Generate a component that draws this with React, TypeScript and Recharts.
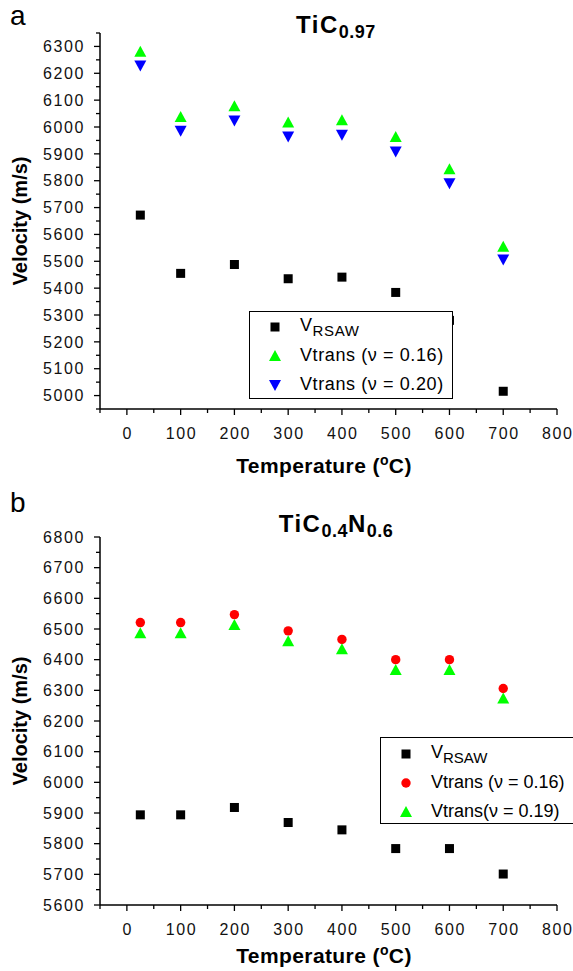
import React from 'react';
import { ScatterChart, Scatter, XAxis, YAxis } from 'recharts';

const FONT = '"Liberation Sans", Arial, Helvetica, sans-serif';

// temperatures (°C), shared by both panels
const temps = [25, 100, 200, 300, 400, 500, 600, 700];

// panel a: TiC0.97
const ticRsaw = [5672, 5455, 5488, 5435, 5441, 5384, 5280, 5016];
const ticTrans016 = [6280, 6037, 6077, 6017, 6025, 5963, 5843, 5554];
const ticTrans020 = [6229, 5986, 6024, 5965, 5971, 5909, 5791, 5507];

// panel b: TiC0.4N0.6
const ticnRsaw = [5894, 5894, 5918, 5869, 5845, 5784, 5784, 5701];
const ticnTrans016 = [6521, 6521, 6547, 6494, 6466, 6400, 6400, 6306];
const ticnTrans019 = [6486, 6486, 6513, 6460, 6434, 6366, 6366, 6273];

const xTicks = [-50, 0, 50, 100, 150, 200, 250, 300, 350, 400, 450, 500, 550, 600, 650, 700, 750, 800];
const topYTicks = [
  4950, 5000, 5050, 5100, 5150, 5200, 5250, 5300, 5350, 5400, 5450, 5500, 5550, 5600, 5650,
  5700, 5750, 5800, 5850, 5900, 5950, 6000, 6050, 6100, 6150, 6200, 6250, 6300, 6350,
];
const bottomYTicks = [
  5600, 5650, 5700, 5750, 5800, 5850, 5900, 5950, 6000, 6050, 6100, 6150, 6200, 6250, 6300,
  6350, 6400, 6450, 6500, 6550, 6600, 6650, 6700, 6750, 6800,
];

const toPoints = (vals: number[]) => temps.map((t, i) => ({ t, v: vals[i] }));

const YTick = (props: any) => {
  const { x, y, payload } = props;
  const major = payload.value % 100 === 0;
  return (
    <g>
      <line x1={x} y1={y} x2={x - (major ? 6 : 4)} y2={y} stroke="#000" strokeWidth={1.3} />
      {major && (
        <text
          x={x - 15}
          y={y}
          dy="0.36em"
          textAnchor="end"
          fontSize={16}
          letterSpacing={1.6}
          fontFamily={FONT}
          fill="#111"
        >
          {payload.value}
        </text>
      )}
    </g>
  );
};

const XTick = (props: any) => {
  const { x, y, payload } = props;
  const major = payload.value % 100 === 0;
  return (
    <g>
      <line x1={x} y1={y} x2={x} y2={y + (major ? 6 : 4)} stroke="#000" strokeWidth={1.3} />
      {major && (
        <text
          x={x + 0.8}
          y={y + 30}
          textAnchor="middle"
          fontSize={16}
          letterSpacing={1.6}
          fontFamily={FONT}
          fill="#111"
        >
          {payload.value}
        </text>
      )}
    </g>
  );
};

const Square = (props: any) => {
  const { cx, cy, fill } = props;
  return <rect x={cx - 4.5} y={cy - 4.5} width={9} height={9} fill={fill} />;
};
const TriUp = (props: any) => {
  const { cx, cy, fill } = props;
  return <polygon points={`${cx - 6},${cy + 5} ${cx + 6},${cy + 5} ${cx},${cy - 6}`} fill={fill} />;
};
const TriDown = (props: any) => {
  const { cx, cy, fill } = props;
  return <polygon points={`${cx - 6},${cy - 5} ${cx + 6},${cy - 5} ${cx},${cy + 6}`} fill={fill} />;
};
const Dot = (props: any) => {
  const { cx, cy, fill } = props;
  return <circle cx={cx} cy={cy} r={4.7} fill={fill} />;
};

const axisLine = { stroke: '#000', strokeWidth: 1.5 };

const abs = (left: number, top: number): React.CSSProperties => ({ position: 'absolute', left, top });

const YLabel = ({ cy }: { cy: number }) => (
  <div
    style={{
      position: 'absolute',
      left: 20,
      top: cy,
      transform: 'translate(-50%, -50%) rotate(-90deg)',
      fontWeight: 'bold',
      fontSize: 20,
      whiteSpace: 'nowrap',
    }}
  >
    Velocity (m/s)
  </div>
);

const XLabel = ({ cy }: { cy: number }) => (
  <div
    style={{
      position: 'absolute',
      left: 324,
      top: cy,
      transform: 'translate(-50%, -50%)',
      fontWeight: 'bold',
      fontSize: 21,
      letterSpacing: 0.4,
      whiteSpace: 'nowrap',
    }}
  >
    Temperature (<sup style={{ fontSize: 14 }}>o</sup>C)
  </div>
);

const Title = ({ cy, children }: { cy: number; children: React.ReactNode }) => (
  <div
    style={{
      position: 'absolute',
      left: 336,
      top: cy,
      transform: 'translate(-50%, -50%)',
      fontWeight: 'bold',
      fontSize: 24,
      letterSpacing: 1.5,
      whiteSpace: 'nowrap',
    }}
  >
    {children}
  </div>
);

const Sub = ({ children }: { children: React.ReactNode }) => (
  <sub style={{ fontSize: 18, verticalAlign: -5, letterSpacing: 0.5 }}>{children}</sub>
);

const LegendRow = ({
  marker,
  spacing = 0.6,
  children,
}: {
  marker: React.ReactNode;
  spacing?: number;
  children: React.ReactNode;
}) => (
  <div style={{ display: 'flex', alignItems: 'center', height: 29 }}>
    <svg width={24} height={16} style={{ marginRight: 13 }}>
      {marker}
    </svg>
    <span style={{ fontSize: 18, letterSpacing: spacing, whiteSpace: 'nowrap' }}>{children}</span>
  </div>
);

const App: React.FC = () => {
  return (
    <div
      style={{
        position: 'absolute',
        left: 0,
        top: 0,
        width: 573,
        height: 971,
        background: '#fff',
        fontFamily: FONT,
        color: '#000',
        overflow: 'hidden',
      }}
    >
      {/* panel a */}
      <div style={abs(0, 0)}>
        <ScatterChart width={573} height={485} margin={{ top: 33, right: 16, left: 0, bottom: 0 }}>
          <XAxis
            type="number"
            dataKey="t"
            domain={[-50, 800]}
            ticks={xTicks}
            interval={0}
            height={76}
            tickSize={0}
            tickMargin={0}
            tickLine={false}
            axisLine={axisLine}
            tick={<XTick />}
            allowDataOverflow
          />
          <YAxis
            type="number"
            dataKey="v"
            domain={[4950, 6350]}
            ticks={topYTicks}
            interval={0}
            width={100}
            tickSize={0}
            tickMargin={0}
            tickLine={false}
            axisLine={axisLine}
            tick={<YTick />}
            allowDataOverflow
          />
          <Scatter data={toPoints(ticRsaw)} fill="#000000" shape={<Square />} isAnimationActive={false} />
          <Scatter data={toPoints(ticTrans016)} fill="#00ff00" shape={<TriUp />} isAnimationActive={false} />
          <Scatter data={toPoints(ticTrans020)} fill="#0000ff" shape={<TriDown />} isAnimationActive={false} />
        </ScatterChart>
      </div>
      <div style={{ ...abs(10, 0), fontSize: 28 }}>a</div>
      <Title cy={27}>
        TiC<Sub>0.97</Sub>
      </Title>
      <YLabel cy={221} />
      <XLabel cy={465} />
      <div
        style={{
          ...abs(249, 311),
          width: 189,
          height: 86,
          border: '1px solid #000',
          background: '#fff',
          padding: '0 0 0 13px',
        }}
      >
        <LegendRow marker={<Square cx={12} cy={8} fill="#000" />}>
          V<sub style={{ fontSize: 15, verticalAlign: -5 }}>RSAW</sub>
        </LegendRow>
        <LegendRow marker={<TriUp cx={12} cy={8} fill="#00ff00" />}>Vtrans (ν = 0.16)</LegendRow>
        <LegendRow marker={<TriDown cx={12} cy={8} fill="#0000ff" />}>Vtrans (ν = 0.20)</LegendRow>
      </div>

      {/* panel b */}
      <div style={abs(0, 485)}>
        <ScatterChart width={573} height={486} margin={{ top: 52, right: 16, left: 0, bottom: 0 }}>
          <XAxis
            type="number"
            dataKey="t"
            domain={[-50, 800]}
            ticks={xTicks}
            interval={0}
            height={66}
            tickSize={0}
            tickMargin={0}
            tickLine={false}
            axisLine={axisLine}
            tick={<XTick />}
            allowDataOverflow
          />
          <YAxis
            type="number"
            dataKey="v"
            domain={[5600, 6800]}
            ticks={bottomYTicks}
            interval={0}
            width={100}
            tickSize={0}
            tickMargin={0}
            tickLine={false}
            axisLine={axisLine}
            tick={<YTick />}
            allowDataOverflow
          />
          <Scatter data={toPoints(ticnRsaw)} fill="#000000" shape={<Square />} isAnimationActive={false} />
          <Scatter data={toPoints(ticnTrans016)} fill="#ff0000" shape={<Dot />} isAnimationActive={false} />
          <Scatter data={toPoints(ticnTrans019)} fill="#00ff00" shape={<TriUp />} isAnimationActive={false} />
        </ScatterChart>
      </div>
      <div style={{ ...abs(10, 487), fontSize: 28 }}>b</div>
      <Title cy={526}>
        TiC<Sub>0.4</Sub>N<Sub>0.6</Sub>
      </Title>
      <YLabel cy={721} />
      <XLabel cy={955} />
      <div
        style={{
          ...abs(380, 737),
          width: 220,
          height: 84,
          border: '1px solid #000',
          background: '#fff',
          padding: '1px 0 0 13px',
        }}
      >
        <LegendRow marker={<Square cx={12} cy={8} fill="#000" />} spacing={0}>
          V<sub style={{ fontSize: 15, verticalAlign: -5 }}>RSAW</sub>
        </LegendRow>
        <LegendRow marker={<Dot cx={12} cy={8} fill="#ff0000" />} spacing={0}>
          Vtrans (ν = 0.16)
        </LegendRow>
        <LegendRow marker={<TriUp cx={12} cy={8} fill="#00ff00" />} spacing={0}>
          Vtrans(ν = 0.19)
        </LegendRow>
      </div>
    </div>
  );
};

export default App;
